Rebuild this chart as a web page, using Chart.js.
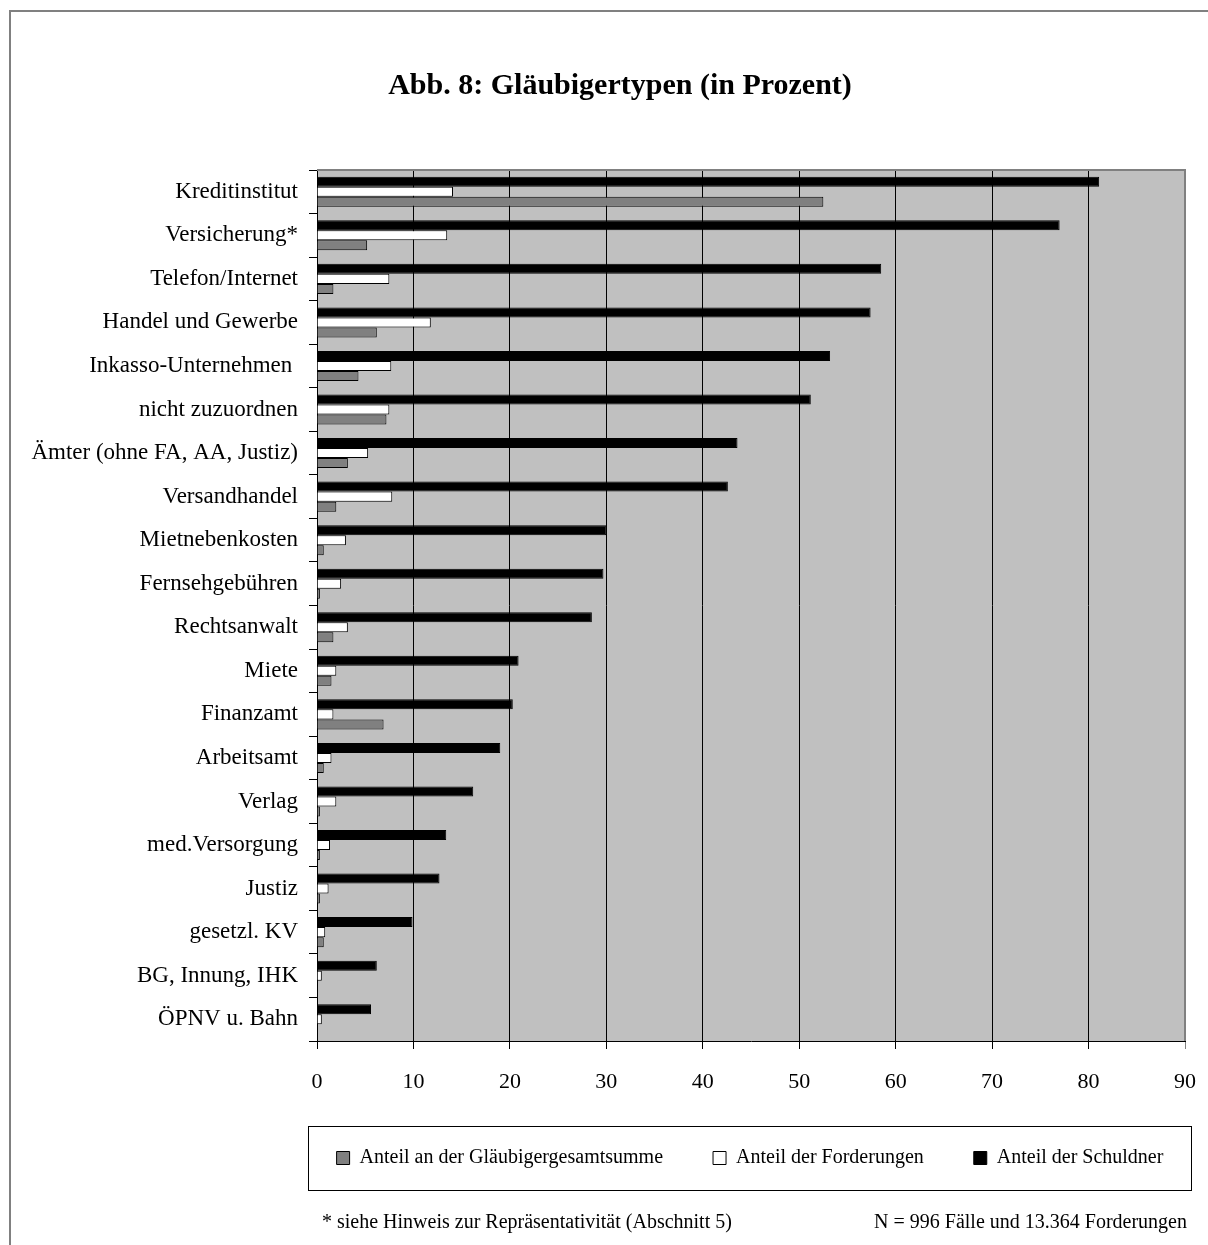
<!DOCTYPE html>
<html lang="de">
<head>
<meta charset="utf-8">
<title>Abb. 8: Gläubigertypen</title>
<script src="https://cdn.jsdelivr.net/npm/chart.js@4/dist/chart.umd.min.js"></script>
<style>
  html, body { margin: 0; padding: 0; background: #fff; overflow: hidden; }
  #wrap { position: relative; width: 1208px; height: 1245px; }
</style>
</head>
<body>
<div id="wrap"><canvas id="glaeubigerChart"></canvas></div>
<script>
// Categories, top to bottom
const categories = [
  "Kreditinstitut", "Versicherung*", "Telefon/Internet", "Handel und Gewerbe",
  "Inkasso-Unternehmen ", "nicht zuzuordnen", "Ämter (ohne FA, AA, Justiz)", "Versandhandel",
  "Mietnebenkosten", "Fernsehgebühren", "Rechtsanwalt", "Miete", "Finanzamt", "Arbeitsamt",
  "Verlag", "med.Versorgung", "Justiz", "gesetzl. KV", "BG, Innung, IHK", "ÖPNV u. Bahn"
];

// Series values (percent)
const anteilSchuldner = [81.1, 77.0, 58.5, 57.4, 53.2, 51.2, 43.6, 42.6, 30.0, 29.7,
                         28.5, 20.9, 20.3, 19.0, 16.2, 13.4, 12.7, 9.9, 6.2, 5.6];
const anteilForderungen = [14.1, 13.5, 7.5, 11.8, 7.7, 7.5, 5.3, 7.8, 3.0, 2.5,
                           3.2, 2.0, 1.7, 1.5, 2.0, 1.35, 1.2, 0.85, 0.5, 0.5];
const anteilGesamtsumme = [52.5, 5.2, 1.7, 6.2, 4.3, 7.2, 3.2, 2.0, 0.7, 0.3,
                           1.7, 1.5, 6.9, 0.7, 0.3, 0.3, 0.3, 0.7, 0, 0];

const xTicks = [0, 10, 20, 30, 40, 50, 60, 70, 80, 90];

const titleText = "Abb. 8: Gläubigertypen (in Prozent)";
const footnoteLeft = "* siehe Hinweis zur Repräsentativität (Abschnitt 5)";
const footnoteRight = "N = 996 Fälle und 13.364 Forderungen";

const serif = "'Liberation Serif', 'Times New Roman', serif";
Chart.defaults.font.family = serif;
Chart.defaults.color = "#000";

const PLOT_LEFT = 317;
const PLOT_BOTTOM = 1041;
const PAD_LEFT = 55;
const PAD_RIGHT = 23;

// background, frame, plot border, legend box and footnotes
const decorations = {
  id: "decorations",
  beforeDraw(chart) {
    const { ctx, chartArea: a } = chart;
    ctx.save();
    ctx.fillStyle = "#fff";
    ctx.fillRect(0, 0, chart.width, chart.height);
    ctx.strokeStyle = "#808080";
    ctx.lineWidth = 2;
    ctx.beginPath();
    ctx.moveTo(10, chart.height);
    ctx.lineTo(10, 11);
    ctx.lineTo(chart.width, 11);
    ctx.stroke();
    ctx.fillStyle = "#c0c0c0";
    ctx.fillRect(a.left, a.top, a.right - a.left, a.bottom - a.top);
    ctx.restore();
  },
  afterLayout(chart) {
    // let the long category labels use the space left of the padding
    chart.scales.y.left = 12;
    // legend sits inside its own box under the axis, centred on it
    const lg = chart.legend;
    const h = lg.height;
    lg.left = 250;
    lg.right = 1250;
    lg.width = 1000;
    lg.top = 1098;
    lg.bottom = 1098 + h;
  },
  afterDraw(chart) {
    const { ctx, chartArea: a } = chart;
    ctx.save();
    ctx.strokeStyle = "#808080";
    ctx.lineWidth = 2;
    ctx.beginPath();
    ctx.moveTo(a.left, a.top);
    ctx.lineTo(a.right, a.top);
    ctx.lineTo(a.right, a.bottom);
    ctx.stroke();

    ctx.strokeStyle = "#000";
    ctx.lineWidth = 1;
    ctx.strokeRect(308.5, 1126.5, 883, 64);

    ctx.fillStyle = "#000";
    ctx.font = "20px " + serif;
    ctx.textBaseline = "middle";
    ctx.textAlign = "left";
    ctx.fillText(footnoteLeft, 322, 1223);
    ctx.textAlign = "right";
    ctx.fillText(footnoteRight, 1187, 1223);
    ctx.restore();
  }
};

const ctx = document.getElementById("glaeubigerChart").getContext("2d");
new Chart(ctx, {
  type: "bar",
  data: {
    labels: categories,
    datasets: [
      {
        label: "Anteil der Schuldner",
        data: anteilSchuldner,
        backgroundColor: "#000000",
        borderColor: "#000000",
        borderWidth: 1
      },
      {
        label: "Anteil der Forderungen",
        data: anteilForderungen,
        backgroundColor: "#ffffff",
        borderColor: "#000000",
        borderWidth: 1
      },
      {
        label: "Anteil an der Gläubigergesamtsumme",
        data: anteilGesamtsumme,
        backgroundColor: "#808080",
        borderColor: "#000000",
        borderWidth: 1
      }
    ]
  },
  options: {
    indexAxis: "y",
    responsive: true,
    maintainAspectRatio: false,
    animation: false,
    categoryPercentage: 0.69,
    barPercentage: 1.0,
    layout: {
      padding: { left: PAD_LEFT, right: PAD_RIGHT, top: 0, bottom: 0 }
    },
    scales: {
      x: {
        min: 0,
        max: 90,
        afterBuildTicks(scale) {
          scale.ticks = xTicks.map(v => ({ value: v }));
        },
        afterFit(scale) {
          scale.height = scale.chart.height - PLOT_BOTTOM - scale.chart.legend.height;
          // the outer labels may hang over the padding
          scale.paddingLeft = 0;
          scale.paddingRight = 0;
        },
        ticks: {
          font: { size: 22 },
          color: "#000",
          padding: 20,
          maxRotation: 0
        },
        grid: {
          color: c => (c.tick && c.tick.value === 90 ? "#808080" : "#000"),
          lineWidth: 1,
          drawTicks: true,
          tickLength: 8
        },
        border: { color: "#000", width: 1 }
      },
      y: {
        afterFit(scale) {
          scale.width = PLOT_LEFT - PAD_LEFT;
        },
        ticks: {
          font: { size: 23 },
          color: "#000",
          padding: 11
        },
        grid: {
          offset: true,
          drawOnChartArea: false,
          drawTicks: true,
          tickLength: 8,
          color: "#000"
        },
        border: { color: "#000", width: 1 }
      }
    },
    plugins: {
      title: {
        display: true,
        text: titleText,
        color: "#000",
        font: { size: 30, weight: "bold", family: serif },
        padding: { top: 68, bottom: 66 }
      },
      legend: {
        position: "bottom",
        reverse: true,
        labels: {
          boxWidth: 13,
          boxHeight: 13,
          padding: 50,
          color: "#000",
          font: { size: 20 }
        }
      },
      tooltip: { enabled: false }
    }
  },
  plugins: [decorations]
});
</script>
</body>
</html>
